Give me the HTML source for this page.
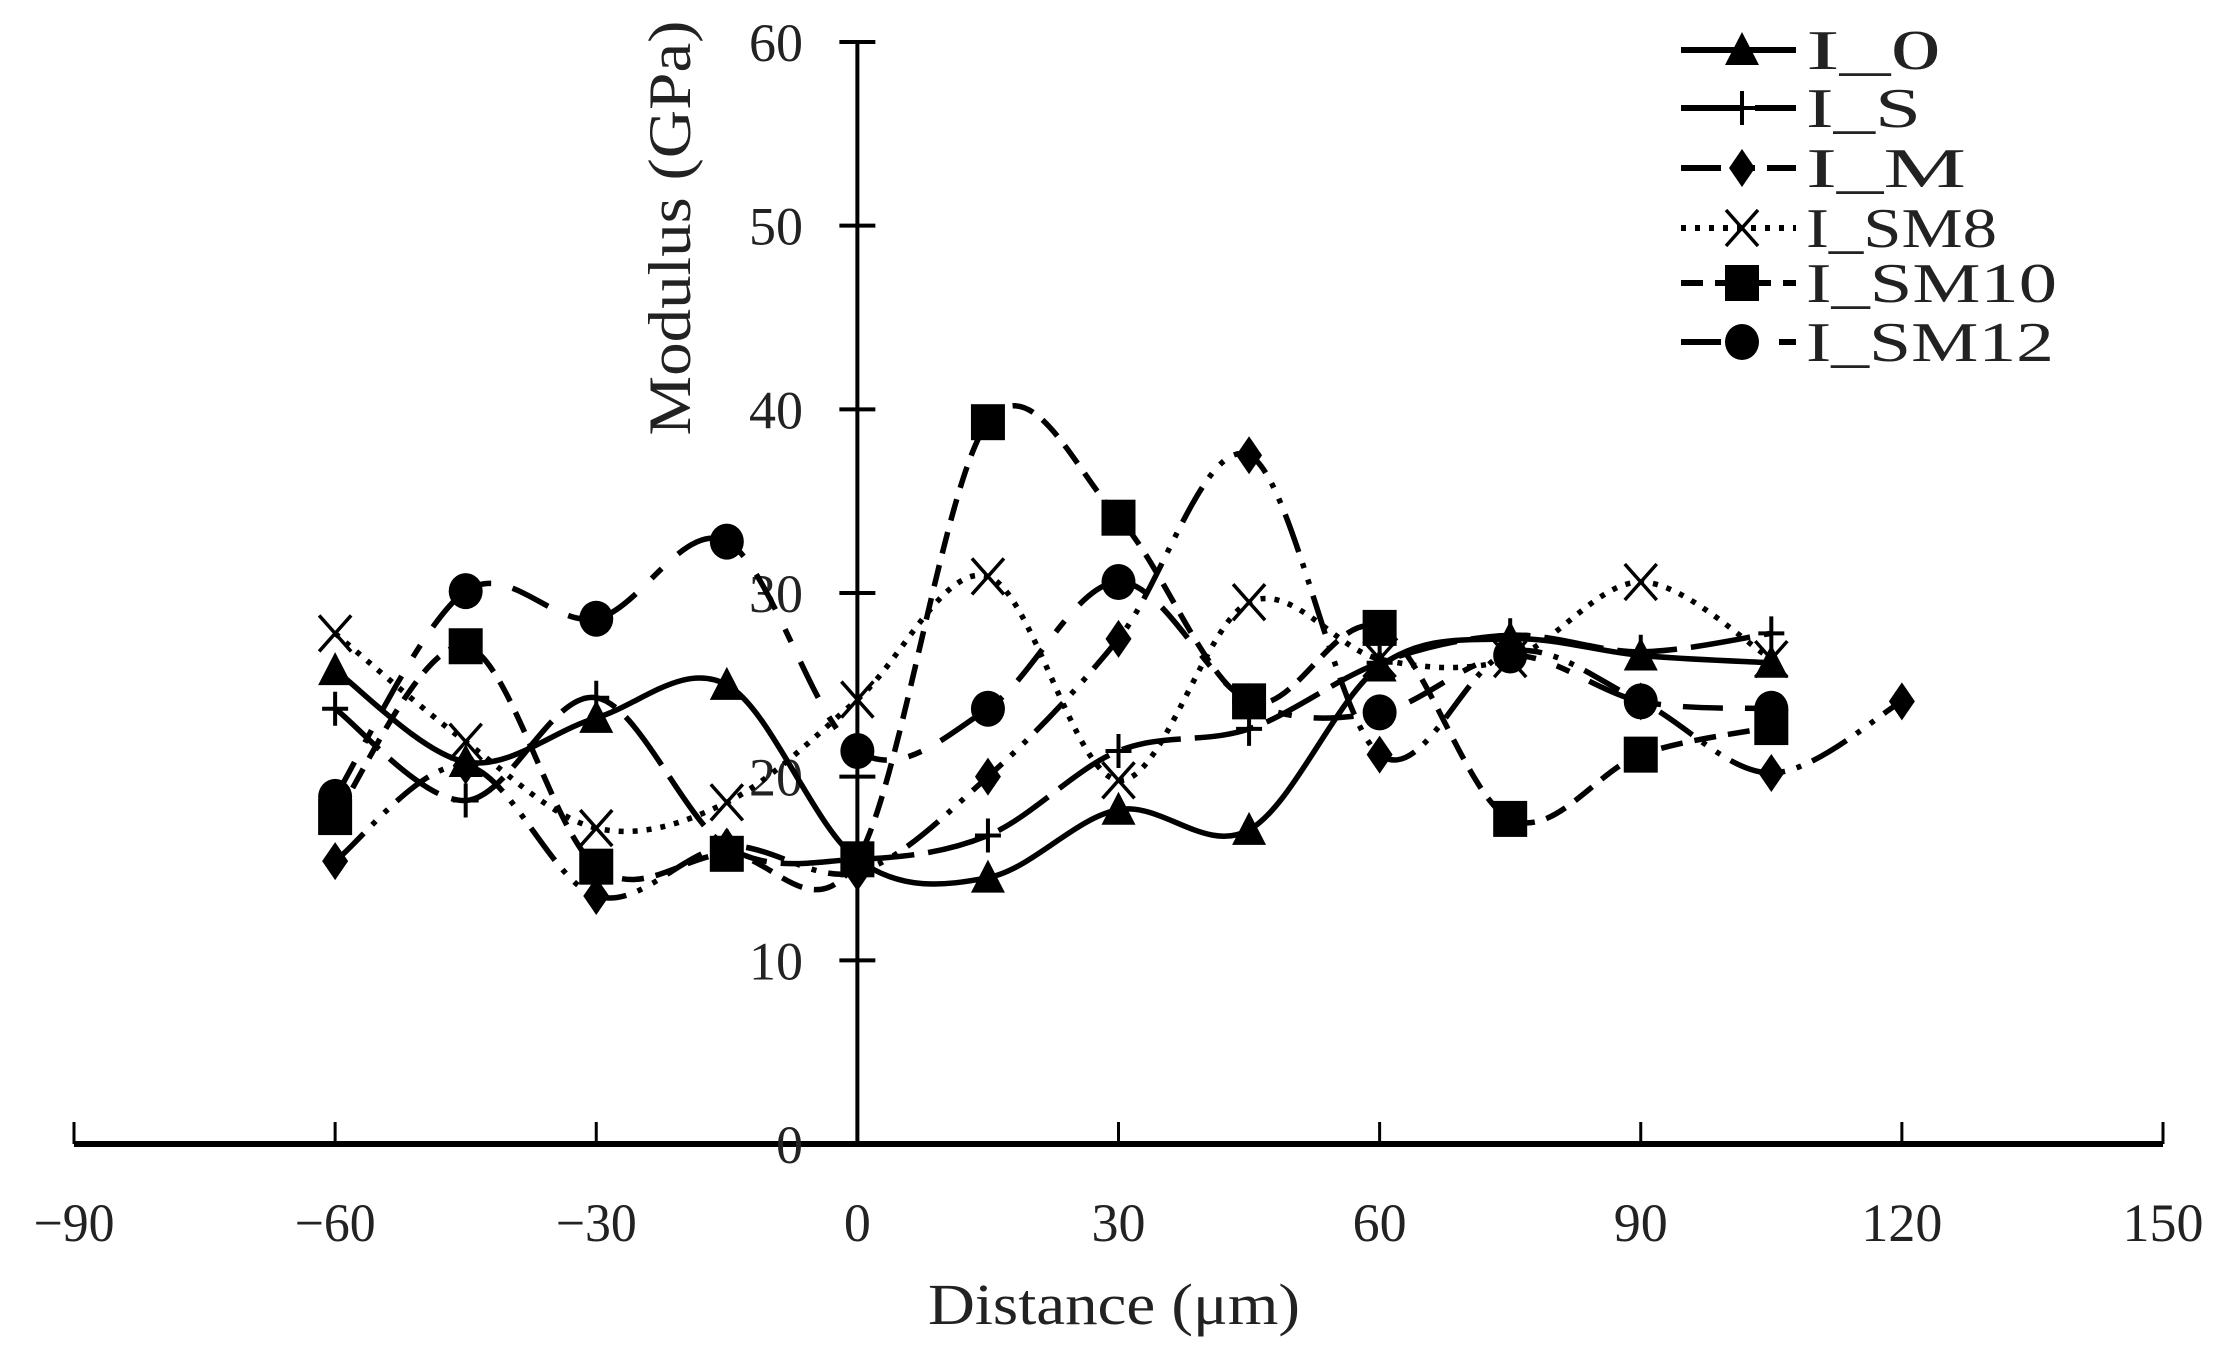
<!DOCTYPE html>
<html><head><meta charset="utf-8"><style>
html,body{margin:0;padding:0;background:#fff;}
svg{display:block;}
text{font-family:"Liberation Serif",serif;fill:#222;}
</style></head><body>
<svg id="chart" width="2221" height="1355" viewBox="0 0 2221 1355" xmlns="http://www.w3.org/2000/svg">
<g id="axes"></g>
<g id="series"></g>
<g id="legend"></g>
<text x="0" y="0" font-size="60" text-anchor="middle" textLength="415" lengthAdjust="spacingAndGlyphs" transform="translate(690,228) rotate(-90)">Modulus (GPa)</text>
<text x="1114" y="1324" font-size="58" text-anchor="middle" textLength="372" lengthAdjust="spacingAndGlyphs">Distance (μm)</text>
</svg>
<script>
const xTicks = [-90,-60,-30,0,30,60,90,120,150];
const yTicks = [0,10,20,30,40,50,60];
const xs = [-60,-45,-30,-15,0,15,30,45,60,75,90,105];
const xsM = [-60,-45,-30,-15,0,15,30,45,60,75,90,105,120];
const seriesNames = ["I_0","I_S","I_M","I_SM8","I_SM10","I_SM12"];
const vI0 = [25.8,20.8,23.2,25.0,15.5,14.5,18.2,17.1,26.0,27.5,26.6,26.2];
const vIS = [23.7,18.7,24.3,16.2,15.5,16.8,21.4,22.6,26.2,27.7,26.8,27.8];
const vIM = [15.4,20.6,13.5,16.2,14.8,20.0,27.5,37.5,21.2,26.8,24.1,20.2,24.1];
const vSM8 = [27.8,21.9,17.2,18.6,24.2,30.9,19.8,29.5,26.4,26.4,30.6,26.4];
const vSM10 = [17.8,27.1,15.1,15.8,15.5,39.3,34.1,24.1,28.1,17.7,21.2,22.7];
const vSM12 = [18.9,30.1,28.6,32.8,21.4,23.7,30.6,24.1,23.5,26.6,24.1,23.7];

const NS="http://www.w3.org/2000/svg";
const X0=74,X1=2163,Y0=1144,Y1=42;
const sx=v=>X0+(v+90)/240*(X1-X0);
const sy=v=>Y0-v/60*(Y0-Y1);
function mk(tag,attrs,parent){const e=document.createElementNS(NS,tag);for(const k in attrs)e.setAttribute(k,attrs[k]);parent.appendChild(e);return e;}
const axes=document.getElementById('axes');
const ax=sx(0);
let l=mk('line',{x1:X0,y1:Y0,x2:X1,y2:Y0,stroke:'#000','stroke-width':6},axes);


l=mk('line',{x1:ax,y1:Y1,x2:ax,y2:Y0,stroke:'#000','stroke-width':4},axes);


xTicks.forEach(v=>{
  const t=mk('line',{x1:sx(v),y1:Y0-22,x2:sx(v),y2:Y0,stroke:'#000','stroke-width':3},axes);
  
  
  const s=(v<0?'\u2212':'')+Math.abs(v);
  const tx=mk('text',{x:sx(v),y:1241,'font-size':54,'text-anchor':'middle',textLength:s.length*27,lengthAdjust:'spacingAndGlyphs'},axes);
  tx.textContent=s;
  
  
});
yTicks.forEach(v=>{
  const t=mk('line',{x1:ax-18,y1:sy(v),x2:ax+18,y2:sy(v),stroke:'#000','stroke-width':4},axes);
  
  
  const s=String(v);
  const tx=mk('text',{x:803,y:sy(v)+19,'font-size':54,'text-anchor':'end',textLength:s.length*27,lengthAdjust:'spacingAndGlyphs'},axes);
  tx.textContent=s;
  
  
});
const styles=[
 {dash:'',marker:'tri'},
 {dash:'60 14',marker:'plus'},
 {dash:'40 12 5 12 5 12',marker:'diamond'},
 {dash:'5 9',marker:'x'},
 {dash:'22 12',marker:'square'},
 {dash:'40 22 14 22',marker:'circle'}
];
const data=[[xs,vI0],[xs,vIS],[xsM,vIM],[xs,vSM8],[xs,vSM10],[xs,vSM12]];
function smooth(pts){
  let d=`M${pts[0][0]},${pts[0][1]}`;
  for(let i=0;i<pts.length-1;i++){
    const p0=pts[Math.max(0,i-1)],p1=pts[i],p2=pts[i+1],p3=pts[Math.min(pts.length-1,i+2)];
    const t=0.5/3;
    d+=` C${p1[0]+(p2[0]-p0[0])*t},${p1[1]+(p2[1]-p0[1])*t} ${p2[0]-(p3[0]-p1[0])*t},${p2[1]-(p3[1]-p1[1])*t} ${p2[0]},${p2[1]}`;
  }
  return d;
}
function marker(type,x,y,g){
  let e;
  if(type==='tri')e=mk('path',{d:`M${x},${y-18} L${x+17},${y+15} L${x-17},${y+15}Z`,fill:'#000'},g);
  else if(type==='plus')e=mk('path',{d:`M${x-13},${y}H${x+13}M${x},${y-17}V${y+17}`,stroke:'#000','stroke-width':4,fill:'none'},g);
  else if(type==='diamond')e=mk('path',{d:`M${x},${y-19} L${x+13},${y} L${x},${y+19} L${x-13},${y}Z`,fill:'#000'},g);
  else if(type==='x')e=mk('path',{d:`M${x-16},${y-18}L${x+16},${y+18}M${x+16},${y-18}L${x-16},${y+18}`,stroke:'#000','stroke-width':3.5,fill:'none'},g);
  else if(type==='square')e=mk('rect',{x:x-17,y:y-18,width:34,height:36,fill:'#000'},g);
  else e=mk('ellipse',{cx:x,cy:y,rx:17,ry:18,fill:'#000'},g);
  
  
}
const sg=document.getElementById('series');
data.forEach((d,i)=>{
  const g=mk('g',{},sg);
  
  
  const pts=d[0].map((x,j)=>[sx(x),sy(d[1][j])]);
  const p=mk('path',{d:smooth(pts),fill:'none',stroke:'#000','stroke-width':5.5,'stroke-dasharray':styles[i].dash},g);
  
  
  pts.forEach(q=>marker(styles[i].marker,q[0],q[1],g));
});
const lg=document.getElementById('legend');
const rows=[50,108,168,228,283,342];
const lw=[135,115,160,191,251,248];
seriesNames.forEach((n,i)=>{
  const g=mk('g',{},lg);
  
  
  const y=rows[i];
  const ln=mk('line',{x1:1681,y1:y,x2:1796,y2:y,stroke:'#000','stroke-width':6,'stroke-dasharray':styles[i].dash},g);
  
  
  marker(styles[i].marker,1742,y,g);
  const t=mk('text',{x:1806,y:y+19,'font-size':56,textLength:lw[i],lengthAdjust:'spacingAndGlyphs'},g);
  t.textContent=n;
  
  
});
</script>
</body></html>
